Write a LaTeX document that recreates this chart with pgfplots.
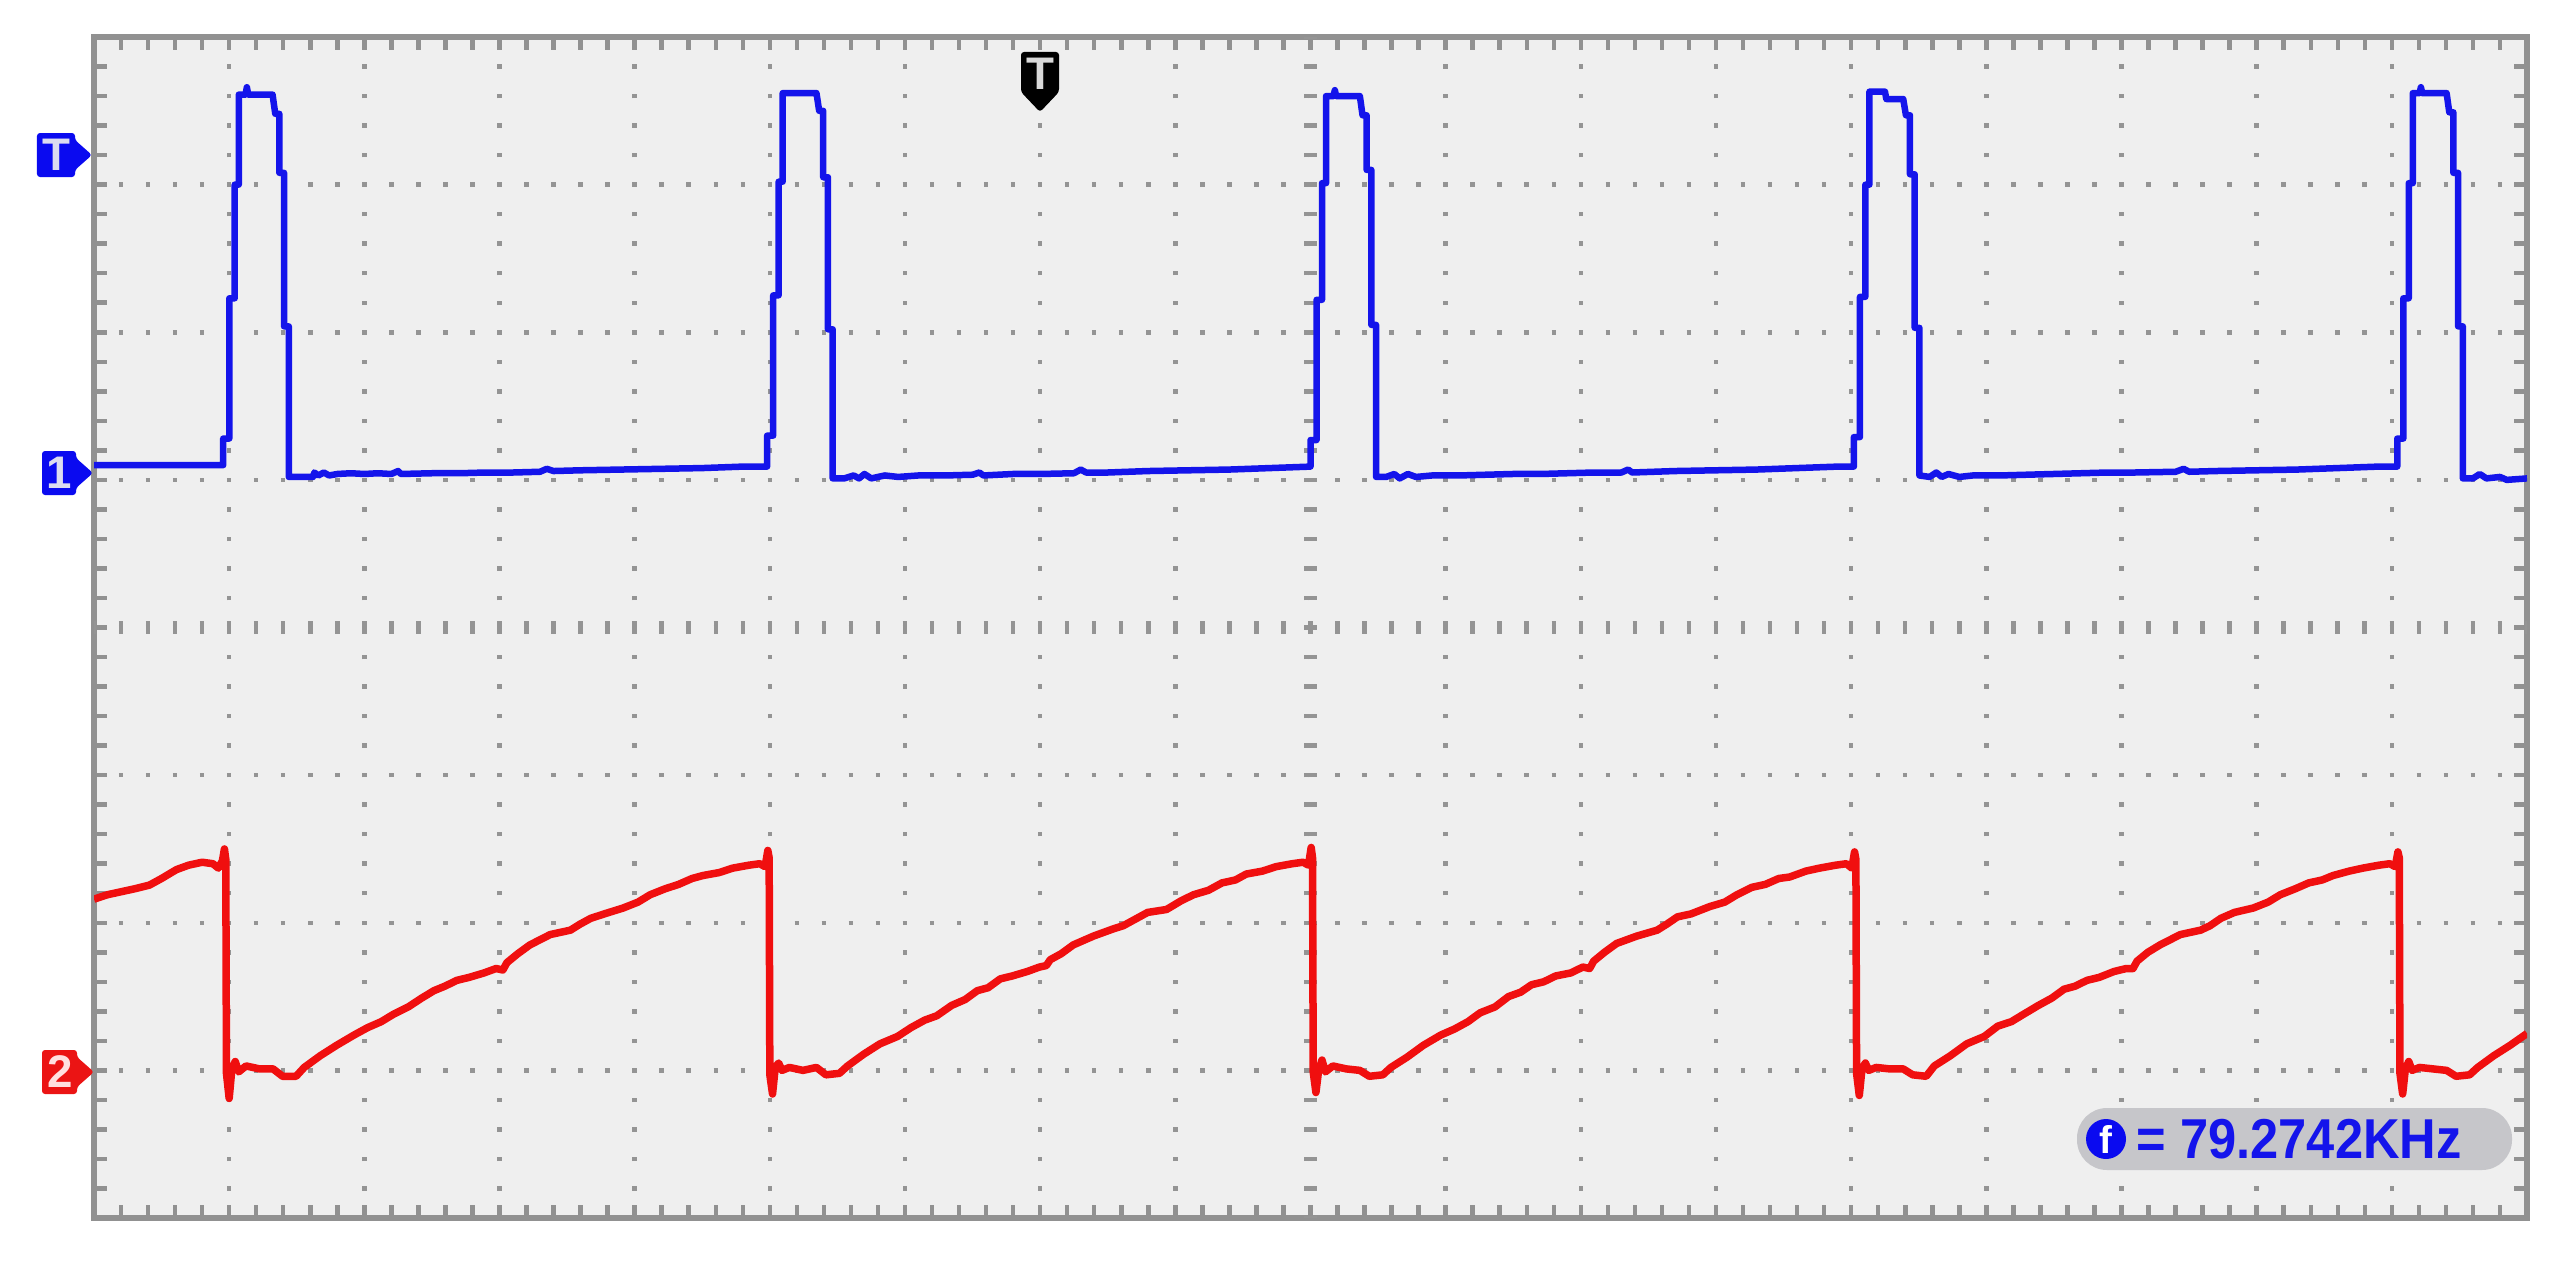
\documentclass[border=0pt]{standalone}
\usepackage{fontspec}
\setmainfont{Liberation Sans}
\usepackage{pgfplots}
\pgfplotsset{compat=1.18}

\definecolor{scopebg}{RGB}{239,239,239}
\definecolor{framegray}{RGB}{145,145,145}
\definecolor{dotgray}{RGB}{148,148,148}
\definecolor{chone}{RGB}{20,20,235}
\definecolor{chtwo}{RGB}{240,15,15}
\definecolor{tagblue}{RGB}{10,10,240}
\definecolor{tagred}{RGB}{235,20,20}
\definecolor{taglet}{RGB}{220,220,240}
\definecolor{pillgray}{RGB}{198,198,202}

\begin{document}
\begin{tikzpicture}
\useasboundingbox (-0.94,-0.45) rectangle (24.69,12.18);
\begin{axis}[
  at={(0,0)}, anchor=south west,
  scale only axis, width=24.33cm, height=11.81cm,
  xmin=0, xmax=18, ymin=-4, ymax=4,
  xtick={0,...,18}, ytick={-4,...,4},
  minor x tick num=4, minor y tick num=4,
  xticklabels={}, yticklabels={},
  tick align=inside, tick pos=both,
  major tick length=0.13cm, minor tick length=0.13cm,
  tick style={framegray, line width=0.045cm},
  grid=major,
  major x grid style={dotgray, line width=0.045cm, dash pattern=on 0.045cm off 0.25025cm, dash phase=0.0225cm},
  major y grid style={dotgray, line width=0.045cm, dash pattern=on 0.045cm off 0.225333cm, dash phase=0.0225cm},
  axis line style={framegray, line width=0.055cm},
  axis background/.style={fill=scopebg},
]
% centre cross ticks
\draw[dotgray, line width=0.13cm, dash pattern=on 0.045cm off 0.25025cm, dash phase=0.0225cm] (axis cs:9,-4) -- (axis cs:9,4);
\draw[dotgray, line width=0.13cm, dash pattern=on 0.045cm off 0.225333cm, dash phase=0.0225cm] (axis cs:0,0) -- (axis cs:18,0);

% channel 1
\addplot[chone, line width=0.065cm, line join=round] coordinates {
(0,1.10)(0.956,1.10)
(0.956,1.28)(1.001,1.28)(1.001,2.23)(1.041,2.23)(1.041,3.00)(1.071,3.00)(1.071,3.61)(1.121,3.61)(1.131,3.66)(1.141,3.61)(1.321,3.61)(1.341,3.48)(1.371,3.48)(1.371,3.08)(1.406,3.08)(1.406,2.04)(1.441,2.04)(1.441,1.02)
(1.62,1.02)(1.63,1.05)(1.66,1.03)(1.70,1.05)(1.74,1.03)(1.80,1.04)(1.90,1.045)(2.0,1.04)(2.1,1.045)(2.2,1.04)(2.25,1.06)(2.27,1.04)(2.5,1.045)(2.7,1.045)(2.9,1.05)(3.1,1.05)(3.3,1.055)(3.35,1.075)(3.40,1.06)(3.6,1.065)(3.9,1.07)(4.2,1.075)(4.5,1.08)(4.8,1.09)(4.98,1.09)
(4.98,1.30)(5.025,1.30)(5.025,2.25)(5.065,2.25)(5.065,3.02)(5.095,3.02)(5.095,3.62)(5.345,3.62)(5.365,3.50)(5.395,3.50)(5.395,3.05)(5.43,3.05)(5.43,2.02)(5.465,2.02)(5.465,1.01)
(5.55,1.01)(5.62,1.03)(5.66,1.01)(5.70,1.04)(5.75,1.01)(5.85,1.03)(5.95,1.02)(6.1,1.03)(6.3,1.03)(6.5,1.035)(6.55,1.05)(6.58,1.03)(6.8,1.04)(7.0,1.04)(7.25,1.045)(7.3,1.07)(7.34,1.05)(7.5,1.05)(7.8,1.06)(8.1,1.065)(8.4,1.07)(8.7,1.08)(9.0,1.09)
(9.0,1.27)(9.045,1.27)(9.045,2.22)(9.085,2.22)(9.085,3.01)(9.115,3.01)(9.115,3.60)(9.17,3.60)(9.18,3.64)(9.19,3.60)(9.365,3.60)(9.385,3.47)(9.415,3.47)(9.415,3.10)(9.45,3.10)(9.45,2.05)(9.485,2.05)(9.485,1.02)
(9.56,1.02)(9.62,1.04)(9.66,1.01)(9.72,1.04)(9.78,1.02)(9.9,1.03)(10.1,1.03)(10.3,1.035)(10.5,1.04)(10.7,1.04)(10.9,1.045)(11.1,1.05)(11.3,1.05)(11.35,1.07)(11.38,1.05)(11.7,1.06)(12.0,1.065)(12.3,1.07)(12.6,1.08)(12.9,1.09)(13.02,1.09)
(13.02,1.29)(13.065,1.29)(13.065,2.24)(13.105,2.24)(13.105,3.00)(13.135,3.00)(13.135,3.63)(13.25,3.63)(13.26,3.58)(13.385,3.58)(13.405,3.47)(13.435,3.47)(13.435,3.07)(13.47,3.07)(13.47,2.03)(13.505,2.03)(13.505,1.03)
(13.58,1.02)(13.63,1.05)(13.67,1.02)(13.72,1.04)(13.80,1.02)(13.9,1.03)(14.1,1.03)(14.3,1.035)(14.5,1.04)(14.7,1.045)(14.9,1.05)(15.1,1.05)(15.4,1.055)(15.46,1.075)(15.50,1.055)(15.7,1.06)(16.0,1.065)(16.3,1.07)(16.6,1.08)(16.9,1.09)(17.04,1.09)
(17.04,1.28)(17.085,1.28)(17.085,2.23)(17.125,2.23)(17.125,3.01)(17.155,3.01)(17.155,3.62)(17.205,3.62)(17.215,3.66)(17.225,3.62)(17.405,3.62)(17.425,3.49)(17.455,3.49)(17.455,3.08)(17.49,3.08)(17.49,2.04)(17.525,2.04)(17.525,1.01)
(17.6,1.01)(17.65,1.04)(17.7,1.01)(17.8,1.02)(17.85,1.0)(18,1.01)
};

% channel 2
\addplot[chtwo, line width=0.075cm, line join=round] coordinates {
(0,-1.84)(0.1,-1.81)(0.2,-1.79)(0.3,-1.77)(0.41,-1.745)(0.5,-1.70)(0.61,-1.64)(0.7,-1.61)(0.80,-1.59)(0.88,-1.60)(0.92,-1.63)(0.95,-1.58)(0.965,-1.50)(0.975,-1.57)
(0.980,-3.02)(1.000,-3.19)(1.020,-2.99)(1.045,-2.94)(1.070,-3.01)(1.125,-2.97)(1.225,-2.99)(1.325,-2.99)(1.395,-3.04)(1.495,-3.04)(1.555,-2.98)(1.675,-2.90)(1.795,-2.83)(1.925,-2.76)(2.025,-2.71)(2.125,-2.67)(2.215,-2.62)(2.325,-2.57)(2.425,-2.51)(2.515,-2.46)(2.595,-2.43)(2.685,-2.39)(2.775,-2.37)(2.885,-2.34)(2.975,-2.31)(3.025,-2.32)(3.055,-2.27)(3.135,-2.21)(3.225,-2.15)(3.375,-2.08)(3.525,-2.05)(3.595,-2.01)(3.675,-1.97)(3.775,-1.94)(3.915,-1.90)(4.025,-1.86)(4.115,-1.81)(4.225,-1.77)(4.325,-1.74)(4.425,-1.70)(4.505,-1.68)(4.625,-1.66)(4.725,-1.63)(4.845,-1.61)(4.925,-1.60)(4.965,-1.62)(4.985,-1.51)(4.995,-1.56)
(5.000,-3.03)(5.020,-3.16)(5.040,-2.98)(5.065,-2.95)(5.090,-3.00)(5.145,-2.98)(5.245,-3.00)(5.345,-2.98)(5.415,-3.03)(5.515,-3.02)(5.575,-2.97)(5.695,-2.89)(5.815,-2.82)(5.945,-2.77)(6.045,-2.71)(6.145,-2.66)(6.235,-2.63)(6.345,-2.56)(6.445,-2.52)(6.535,-2.46)(6.615,-2.44)(6.705,-2.38)(6.795,-2.36)(6.905,-2.33)(6.995,-2.30)(7.045,-2.29)(7.075,-2.25)(7.155,-2.21)(7.245,-2.15)(7.395,-2.09)(7.545,-2.04)(7.615,-2.02)(7.695,-1.98)(7.795,-1.93)(7.935,-1.91)(8.045,-1.85)(8.135,-1.81)(8.245,-1.78)(8.345,-1.73)(8.445,-1.71)(8.525,-1.67)(8.645,-1.65)(8.745,-1.62)(8.865,-1.60)(8.945,-1.59)(8.985,-1.61)(9.005,-1.49)(9.015,-1.56)
(9.020,-3.01)(9.040,-3.15)(9.060,-3.00)(9.085,-2.93)(9.110,-3.01)(9.165,-2.97)(9.265,-2.99)(9.365,-3.00)(9.435,-3.04)(9.535,-3.03)(9.595,-2.98)(9.715,-2.91)(9.835,-2.83)(9.965,-2.76)(10.065,-2.72)(10.165,-2.67)(10.255,-2.61)(10.365,-2.57)(10.465,-2.50)(10.555,-2.47)(10.635,-2.42)(10.725,-2.40)(10.815,-2.36)(10.925,-2.34)(11.015,-2.30)(11.065,-2.31)(11.095,-2.26)(11.175,-2.20)(11.265,-2.14)(11.415,-2.09)(11.565,-2.05)(11.635,-2.01)(11.715,-1.96)(11.815,-1.94)(11.955,-1.89)(12.065,-1.86)(12.155,-1.81)(12.265,-1.76)(12.365,-1.74)(12.465,-1.70)(12.545,-1.69)(12.665,-1.65)(12.765,-1.63)(12.885,-1.61)(12.965,-1.60)(13.005,-1.63)(13.025,-1.52)(13.035,-1.57)
(13.040,-3.02)(13.060,-3.17)(13.080,-2.99)(13.105,-2.95)(13.130,-3.00)(13.185,-2.98)(13.285,-2.99)(13.385,-2.99)(13.455,-3.03)(13.555,-3.04)(13.615,-2.97)(13.735,-2.90)(13.855,-2.82)(13.985,-2.77)(14.085,-2.70)(14.185,-2.67)(14.275,-2.62)(14.385,-2.56)(14.485,-2.51)(14.575,-2.45)(14.655,-2.43)(14.745,-2.39)(14.835,-2.37)(14.945,-2.33)(15.035,-2.31)(15.085,-2.31)(15.115,-2.26)(15.195,-2.20)(15.285,-2.15)(15.435,-2.08)(15.585,-2.05)(15.655,-2.02)(15.735,-1.97)(15.835,-1.93)(15.975,-1.90)(16.085,-1.86)(16.175,-1.81)(16.285,-1.77)(16.385,-1.73)(16.485,-1.71)(16.565,-1.68)(16.685,-1.65)(16.785,-1.63)(16.905,-1.61)(16.985,-1.60)(17.025,-1.62)(17.045,-1.52)(17.055,-1.56)
(17.060,-3.02)(17.080,-3.16)(17.100,-2.99)(17.125,-2.94)(17.150,-3.00)(17.205,-2.98)(17.305,-2.99)(17.405,-3.00)(17.475,-3.04)(17.575,-3.03)(17.635,-2.98)(17.755,-2.90)(17.875,-2.83)(18.000,-2.75)
};
\end{axis}

% channel tags on the left
\fill[tagblue, rounded corners=0.03cm] (-0.02,10.63) -- (-0.19,10.78) -- (-0.19,10.85) -- (-0.57,10.85) -- (-0.57,10.41) -- (-0.19,10.41) -- (-0.19,10.48) -- cycle;
\node[text=taglet, font=\bfseries\fontsize{13}{13}\selectfont] at (-0.38,10.63) {T};
\fill[tagblue, rounded corners=0.03cm] (-0.01,7.45) -- (-0.18,7.60) -- (-0.18,7.67) -- (-0.52,7.67) -- (-0.52,7.23) -- (-0.18,7.23) -- (-0.18,7.30) -- cycle;
\node[text=taglet, font=\bfseries\fontsize{13}{13}\selectfont] at (-0.35,7.45) {1};
\fill[tagred, rounded corners=0.03cm] (0,1.46) -- (-0.17,1.61) -- (-0.17,1.68) -- (-0.52,1.68) -- (-0.52,1.24) -- (-0.17,1.24) -- (-0.17,1.31) -- cycle;
\node[text=white!88!red, font=\bfseries\fontsize{13}{13}\selectfont] at (-0.34,1.46) {2};

% trigger position tag
\fill[black, rounded corners=0.03cm] (9.46,11.06) -- (9.27,11.26) -- (9.27,11.66) -- (9.65,11.66) -- (9.65,11.26) -- cycle;
\node[text=white!85!black, font=\bfseries\fontsize{13}{13}\selectfont] at (9.46,11.44) {T};

% frequency readout
\fill[pillgray, rounded corners=0.3cm] (19.83,0.48) rectangle (24.18,1.10);
\fill[tagblue] (20.12,0.79) circle (0.2);
\node[text=white, font=\bfseries\fontsize{11}{11}\selectfont] at (20.12,0.79) {f};
\node[anchor=west, text=chone, font=\bfseries\fontsize{16}{16}\selectfont, xscale=0.9, inner sep=0pt] at (20.42,0.79) {= 79.2742KHz};
\end{tikzpicture}
\end{document}
